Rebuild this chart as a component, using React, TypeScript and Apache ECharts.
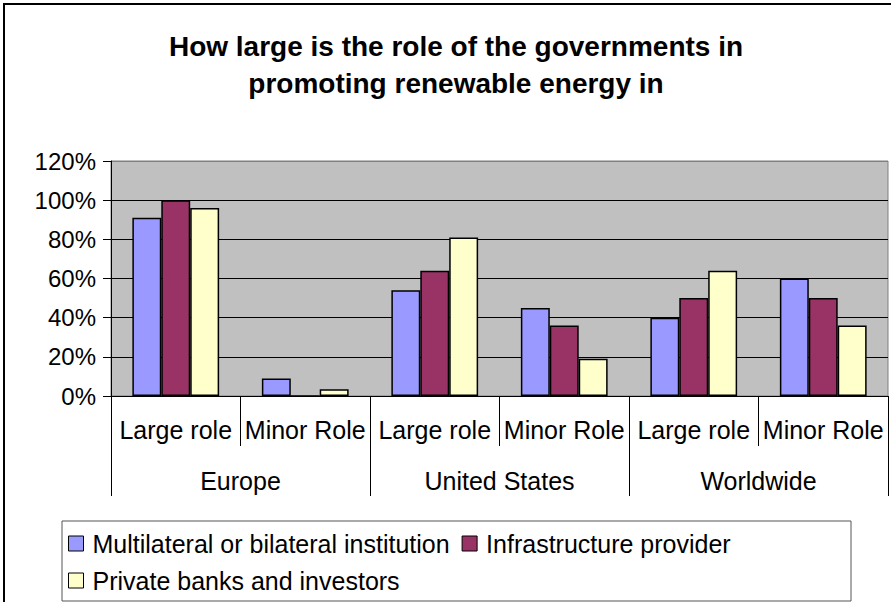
import React, { useEffect, useRef } from "react";
import * as echarts from "echarts";

const categories = ["Large role", "Minor Role", "Large role", "Minor Role", "Large role", "Minor Role"];
const regions = ["Europe", "United States", "Worldwide"];
const seriesNames = ["Multilateral or bilateral institution", "Infrastructure provider", "Private banks and investors"];
const multilateral = [91, 9, 54, 45, 40, 60];
const infrastructure = [100, 0, 64, 36, 50, 50];
const privateBanks = [96, 3.5, 81, 19, 64, 36];
const seriesColors = ["#9999FF", "#993366", "#FFFFCC"];
const titleText = "How large is the role of the governments in\npromoting renewable energy in";

const FONT = "'Liberation Sans', Arial, sans-serif";

export default function App() {
  const ref = useRef<HTMLDivElement>(null);
  useEffect(() => {
    if (!ref.current) return;
    const chart = echarts.init(ref.current, null, { renderer: "svg" });
    const values = [multilateral, infrastructure, privateBanks];
    chart.setOption({
      animation: false,
      backgroundColor: "#ffffff",
      textStyle: { fontFamily: FONT },
      title: {
        text: titleText,
        left: 456,
        textAlign: "center",
        top: 28,
        padding: 0,
        textStyle: { fontFamily: FONT, fontSize: 28, fontWeight: "bold", color: "#000", lineHeight: 37 },
      },
      graphic: [
        { type: "rect", shape: { x: 4, y: 4, width: 950, height: 700 }, style: { fill: "none", stroke: "#000", lineWidth: 2 }, silent: true, z: -10 },
        { type: "rect", shape: { x: 62, y: 521, width: 789, height: 80 }, style: { fill: "#fff", stroke: "#555", lineWidth: 1 }, silent: true, z: -5 },
      ],
      legend: {
        left: 68,
        top: 531,
        width: 740,
        padding: 0,
        itemGap: 12,
        itemWidth: 15,
        itemHeight: 15,
        icon: "rect",
        data: seriesNames,
        itemStyle: { borderColor: "#000", borderWidth: 1 },
        textStyle: { fontFamily: FONT, fontSize: 25, color: "#000", padding: [0, 0, 0, 4] },
      },
      grid: {
        left: 111,
        right: 3,
        top: 161,
        bottom: 206,
        show: true,
        backgroundColor: "#C0C0C0",
        borderColor: "#808080",
        borderWidth: 1,
      },
      xAxis: [
        {
          type: "category",
          data: categories,
          position: "bottom",
          axisLine: { show: true, lineStyle: { color: "#000", width: 1 } },
          axisTick: { show: true, length: 50, interval: 0, lineStyle: { color: "#000" } },
          axisLabel: { interval: 0, margin: 21, fontFamily: FONT, fontSize: 25, color: "#000" },
          splitLine: { show: false },
        },
        {
          type: "category",
          data: regions,
          position: "bottom",
          axisLine: { show: false },
          axisTick: { show: true, length: 100, interval: 0, lineStyle: { color: "#000" } },
          axisLabel: { interval: 0, margin: 72, fontFamily: FONT, fontSize: 25, color: "#000" },
          splitLine: { show: false },
        },
      ],
      yAxis: {
        type: "value",
        min: 0,
        max: 120,
        interval: 20,
        axisLine: { show: true, lineStyle: { color: "#000", width: 1 } },
        axisTick: { show: true, length: 8, lineStyle: { color: "#000" } },
        axisLabel: { margin: 15, fontFamily: FONT, fontSize: 24, color: "#000", formatter: "{value}%" },
        splitLine: {
          show: true,
          lineStyle: { color: ["#000", "#000", "#000", "#000", "#000", "#000", "#808080"], width: 1 },
        },
      },
      series: seriesNames.map((name, i) => ({
        name,
        type: "bar",
        xAxisIndex: 0,
        data: values[i],
        barGap: "0%",
        barCategoryGap: "33%",
        itemStyle: { color: seriesColors[i], borderColor: "#000", borderWidth: 1.5 },
      })),
    });
    return () => chart.dispose();
  }, []);
  return (
    <div
      ref={ref}
      style={{ position: "fixed", left: 0, top: 0, width: 891, height: 602, background: "#fff" }}
    />
  );
}
